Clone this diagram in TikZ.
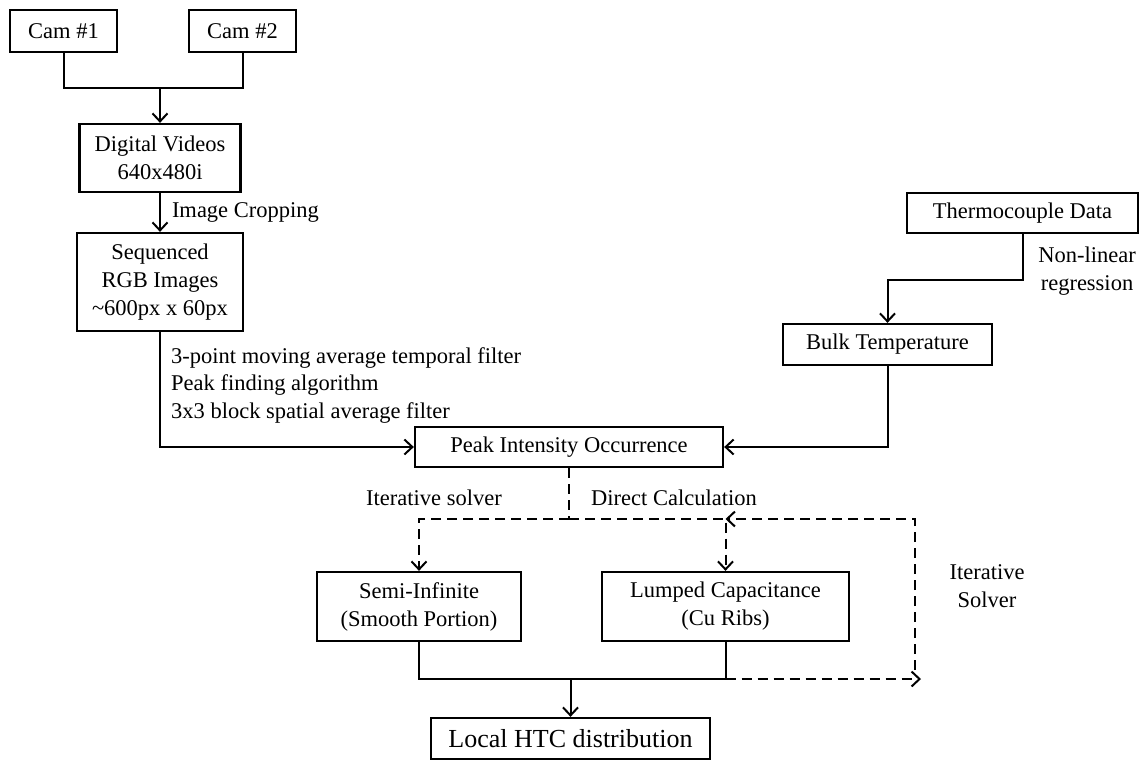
\documentclass[tikz,border=0pt]{standalone}
\usepackage{fontspec}
\setmainfont{Liberation Serif}
\usetikzlibrary{arrows.meta}

\begin{document}
\begin{tikzpicture}[x=1pt,y=-1pt,
    box/.style={draw,line width=2.3pt,align=center,inner sep=0pt,
      font=\fontsize{22.5}{28}\selectfont},
    sz/.style 2 args={minimum width=#1pt,minimum height=#2pt},
    lbl/.style={inner sep=0pt,font=\fontsize{22.5}{28}\selectfont},
    barb/.style={-{Straight Barb[length=8pt,width=15pt,line width=2pt]}},
    flow/.style={line width=2pt,barb},
    link/.style={line width=2pt},
    dashline/.style={line width=2pt,dash pattern=on 10pt off 6pt}]
  \useasboundingbox (0,0) rectangle (1140,761);
  \node[box,sz={107}{42}] (cam1) at (63.5,31) {Cam \#1};
  \node[box,sz={107}{42}] (cam2) at (242.5,31) {Cam \#2};
  \node[box,sz={161}{68}] (video) at (160,158) {Digital Videos\\640x480i};
  \node[box,sz={166}{98}] (seq) at (160,282) {Sequenced\\RGB Images\\\textasciitilde600px x 60px};
  \node[box,sz={308}{40}] (peak) at (569,447) {Peak Intensity Occurrence};
  \node[box,sz={231}{40}] (thermo) at (1022.5,213) {Thermocouple Data};
  \node[box,sz={209}{41}] (bulk) at (887.5,344.5) {Bulk Temperature};
  \node[box,sz={204}{69}] (semi) at (419,606.5) {Semi-Infinite\\(Smooth Portion)};
  \node[box,sz={247}{69}] (lump) at (725.5,606.5) {Lumped Capacitance\\(Cu Ribs)};
  \node[box,sz={279}{41},font=\fontsize{26}{30}\selectfont] (htc) at (570.5,738.5) {Local HTC distribution};

  \coordinate (camjoin) at (160,88);
  \coordinate (split) at (569,519);
  \coordinate (bjoin) at (570.5,679);
  \coordinate (loopout) at (921,679);
  \coordinate (loopin) at (915,670);

  \draw[link] (cam1.south) |- (camjoin) -| (cam2.south);
  \draw[flow] (camjoin) -- (video.north);
  \draw[flow] (video.south) -- (seq.north)
    node[lbl,midway,anchor=west,xshift=11pt] {Image Cropping};
  \draw[flow] (seq.south) |- (peak.west);
  \node[lbl,anchor=west,align=left,font=\fontsize{22.5}{27.5}\selectfont] (filters) at (171,385)
    {3-point moving average temporal filter\\Peak finding algorithm\\3x3 block spatial average filter};

  \draw[flow] (thermo.south) -- ++(0,46) -| (bulk.north);
  \node[lbl,align=center] (regr) at (1087,271) {Non-linear\\regression};
  \draw[flow] (bulk.south) |- (peak.east);

  \draw[dashline] (peak.south) -- (split);
  \draw[dashline,barb] (split) -| (semi.north);
  \draw[dashline,barb] (split) -| (lump.north);
  \node[lbl,anchor=east] (itsolv) at (502,498) {Iterative solver};
  \node[lbl,anchor=west] (direct) at (591,498) {Direct Calculation};

  \draw[link] (semi.south) |- (bjoin) -| (lump.south);
  \draw[flow] (bjoin) -- (htc.north);
  \draw[dashline,barb] (lump.south |- bjoin) -- (loopout);
  \draw[dashline,barb] (loopin) |- (lump.north |- split);
  \node[lbl,align=center] (itsolv2) at (987,586) {Iterative\\Solver};
\end{tikzpicture}
\end{document}
